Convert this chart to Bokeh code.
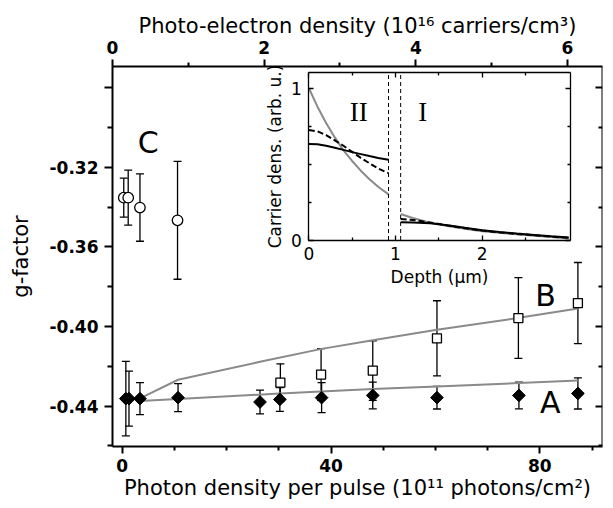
import numpy as np
from bokeh.plotting import figure
from bokeh.models import (Range1d, LinearAxis, FixedTicker, Whisker, TeeHead,
                          ColumnDataSource, Label)
from bokeh.embed import file_html
from bokeh.resources import INLINE

# ---------------- data ----------------
# Series A: filled diamonds
photon_A = [0.7, 1.3, 3.4, 10.7, 26.4, 30.2, 38.2, 48.0, 60.3, 76.0, 87.3]
g_A = [-0.4363, -0.4363, -0.4363, -0.4358, -0.4380, -0.4367, -0.4358,
       -0.4347, -0.4358, -0.4347, -0.4337]
err_A = [0.0187, 0.0138, 0.0080, 0.0070, 0.0060, 0.0060, 0.0075,
         0.0067, 0.0057, 0.0067, 0.0078]

# Series B: open squares
photon_B = [30.3, 38.1, 48.0, 60.3, 75.9, 87.3]
g_B = [-0.4283, -0.4242, -0.4222, -0.4060, -0.3958, -0.3883]
err_B = [0.0095, 0.0130, 0.0150, 0.0189, 0.0203, 0.0204]

# Series C: open circles
photon_C = [0.3, 1.15, 3.4, 10.6]
g_C = [-0.3353, -0.3353, -0.3403, -0.3467]
err_C = [0.0098, 0.0138, 0.0169, 0.0296]

# Model curves (grey)
fit_A_x = [3.4, 10.7, 30.2, 48.0, 60.3, 76.0, 87.3]
fit_A_g = [-0.4375, -0.4365, -0.4337, -0.4315, -0.4302, -0.4285, -0.4272]
fit_B_x = [3.4, 10.7, 26.4, 38.2, 48.0, 60.3, 76.0, 87.3]
fit_B_g = [-0.4362, -0.4268, -0.4178, -0.4113, -0.4070, -0.4017, -0.3957, -0.3910]

labels_text = ["A", "B", "C"]
labels_x = [82.0, 81.1, 5.0]
labels_g = [-0.4381, -0.3845, -0.3074]

# Ticks
x_ticks = [0, 40, 80]
x_tick_labels = ["0", "40", "80"]
x_minor = [10, 20, 30, 50, 60, 70, 90]
y_ticks = [-0.44, -0.40, -0.36, -0.32, -0.28]
y_tick_labels = ["-0.44", "-0.40", "-0.36", "-0.32", ""]
y_minor = [-0.46, -0.42, -0.38, -0.34, -0.30]
top_ticks = [0, 2, 4, 6]
top_tick_labels = ["0", "2", "4", "6"]
top_minor = [1, 3, 5]

# Inset: carrier density vs depth
depth_II = [0.0, 0.1, 0.2, 0.3, 0.4, 0.5, 0.6, 0.7, 0.8, 0.92]
grey_II = [1.0, 0.877, 0.77, 0.675, 0.59, 0.52, 0.456, 0.40, 0.35, 0.30]
solid_II = [0.632, 0.63, 0.62, 0.607, 0.593, 0.578, 0.565, 0.552, 0.54, 0.528]
dashed_II = [0.724, 0.715, 0.69, 0.655, 0.62, 0.58, 0.54, 0.505, 0.47, 0.44]

depth_I = [1.06, 1.2, 1.4, 1.6, 1.8, 2.0, 2.2, 2.4, 2.6, 2.8, 3.0]
grey_I = [0.171, 0.145, 0.113, 0.092, 0.074, 0.058, 0.047, 0.037, 0.028, 0.019, 0.010]
solid_I = [0.116, 0.115, 0.110, 0.097, 0.080, 0.064, 0.052, 0.042, 0.033, 0.024, 0.016]
dashed_I = [0.138, 0.132, 0.115, 0.096, 0.078, 0.062, 0.050, 0.040, 0.031, 0.022, 0.014]

boundary_depth = [0.92, 1.06]
depth_max = 3.02
dens_max = 1.104
depth_ticks = [0, 1, 2]
depth_minor = [0.5, 1.5, 2.5]
dens_ticks = [0, 1]
dens_minor = [0.25, 0.5, 0.75]
region_text = ["II", "I"]
region_depth = [0.577, 1.316]
region_dens = [0.84, 0.84]

# ---------------- layout geometry ----------------
W, H = 613, 508
B_LEFT, B_RIGHT, B_TOP, B_BOTTOM = 112, 11, 66, 62
FW = W - B_LEFT - B_RIGHT
FH = H - B_TOP - B_BOTTOM

x_off, x_pxu = 9.7, 5.22
x_start = -x_off / x_pxu
x_end = x_start + FW / x_pxu
y_off, y_pxu = 100.7, 1990.0
y_end = -0.32 + y_off / y_pxu
y_start = y_end - FH / y_pxu
top_pxu = 75.83
top_end = FW / top_pxu

ins_left_off, ins_x_pxu = 196.3, 86.66
ins_bottom_off, ins_y_pxu = 206.5, 152.0
ix_start = -ins_left_off / ins_x_pxu
ix_end = ix_start + FW / ins_x_pxu
iy_start = -ins_bottom_off / ins_y_pxu
iy_end = iy_start + FH / ins_y_pxu

FONT = "DejaVu Sans"
GREY = "#8a8a8a"

p = figure(width=W, height=H,
           x_range=Range1d(x_start, x_end), y_range=Range1d(y_start, y_end),
           x_axis_type=None, y_axis_type=None,
           output_backend="svg", toolbar_location=None,
           min_border_left=B_LEFT, min_border_right=B_RIGHT,
           min_border_top=B_TOP, min_border_bottom=B_BOTTOM)
p.extra_x_ranges = {"top": Range1d(0, top_end), "ix": Range1d(ix_start, ix_end)}
p.extra_y_ranges = {"iy": Range1d(iy_start, iy_end)}
p.outline_line_color = None
p.background_fill_color = "white"
p.border_fill_color = "white"


def style(ax, tick_size="17px", label_size="21px", bold=True, lw=2):
    ax.axis_line_width = lw
    ax.axis_line_color = "black"
    ax.major_tick_line_width = lw
    ax.minor_tick_line_width = lw
    ax.major_tick_line_color = "black"
    ax.minor_tick_line_color = "black"
    ax.major_label_text_font = FONT
    ax.major_label_text_font_size = tick_size
    ax.major_label_text_font_style = "bold" if bold else "normal"
    ax.major_label_text_color = "black"
    ax.axis_label_text_font = FONT
    ax.axis_label_text_font_size = label_size
    ax.axis_label_text_font_style = "normal"
    ax.axis_label_text_color = "black"


# main bottom axis
xb = LinearAxis(ticker=FixedTicker(ticks=x_ticks, minor_ticks=x_minor),
                axis_label="Photon density per pulse (10¹¹ photons/cm²)")
xb.major_label_overrides = dict(zip(x_ticks, x_tick_labels))
style(xb)
xb.major_tick_in, xb.major_tick_out = 0, 7
xb.minor_tick_in, xb.minor_tick_out = 0, 4
xb.major_label_standoff = 5
xb.axis_label_standoff = 1
p.add_layout(xb, "below")

# main left axis
yl = LinearAxis(ticker=FixedTicker(ticks=y_ticks, minor_ticks=y_minor),
                axis_label="g-factor")
yl.major_label_overrides = dict(zip(y_ticks, y_tick_labels))
style(yl)
yl.major_tick_in, yl.major_tick_out = 0, 8
yl.minor_tick_in, yl.minor_tick_out = 0, 5
yl.major_label_standoff = 6
yl.axis_label_standoff = 14
p.add_layout(yl, "left")

# main top axis
xt = LinearAxis(x_range_name="top",
                ticker=FixedTicker(ticks=top_ticks, minor_ticks=top_minor),
                axis_label="Photo-electron density (10¹⁶ carriers/cm³)")
xt.major_label_overrides = dict(zip(top_ticks, top_tick_labels))
style(xt)
xt.major_tick_in, xt.major_tick_out = 0, 7
xt.minor_tick_in, xt.minor_tick_out = 0, 4
xt.major_label_standoff = 6
xt.axis_label_standoff = 0
p.add_layout(xt, "above")

# main right axis (inward ticks, no labels)
yr = LinearAxis(ticker=FixedTicker(ticks=y_ticks, minor_ticks=y_minor),
                fixed_location=x_end)
style(yr)
yr.major_label_text_color = None
yr.major_tick_in, yr.major_tick_out = 7, 0
yr.minor_tick_in, yr.minor_tick_out = 4, 0
p.add_layout(yr, "right")

# model curves
p.line(fit_B_x, fit_B_g, line_color=GREY, line_width=2)
p.line(fit_A_x, fit_A_g, line_color=GREY, line_width=2)

# error bars
for xs, gs, es in [(photon_A, g_A, err_A), (photon_B, g_B, err_B), (photon_C, g_C, err_C)]:
    src = ColumnDataSource(dict(x=xs,
                                up=[g + e for g, e in zip(gs, es)],
                                lo=[g - e for g, e in zip(gs, es)]))
    w = Whisker(source=src, base="x", upper="up", lower="lo", dimension="height",
                line_color="black", line_width=1.3,
                upper_head=TeeHead(size=8, line_width=1.3, line_color="black"),
                lower_head=TeeHead(size=8, line_width=1.3, line_color="black"))
    p.add_layout(w)

# markers
p.scatter(photon_A, g_A, marker="square", size=9, angle=np.pi / 4,
          fill_color="black", line_color="black", line_width=1)
p.scatter(photon_B, g_B, marker="square", size=9,
          fill_color="white", line_color="black", line_width=1.3)
p.scatter(photon_C, g_C, marker="circle", size=10.5,
          fill_color="white", line_color="black", line_width=1.3)

for t, lx, ly in zip(labels_text, labels_x, labels_g):
    p.add_layout(Label(x=lx, y=ly, text=t, text_font=FONT, text_font_size="30px",
                       text_align="center", text_baseline="middle", text_color="black"))

# ---------------- inset ----------------
RN = dict(x_range_name="ix", y_range_name="iy")
p.line(depth_II, grey_II, line_color=GREY, line_width=2, **RN)
p.line(depth_I, grey_I, line_color=GREY, line_width=2, **RN)
p.line(depth_II, dashed_II, line_color="black", line_width=2, line_dash="6 3", **RN)
p.line(depth_I, dashed_I, line_color="black", line_width=2, line_dash="6 3", **RN)
p.line(depth_II, solid_II, line_color="black", line_width=2, **RN)
p.line(depth_I, solid_I, line_color="black", line_width=2, **RN)
p.segment(x0=boundary_depth, y0=[0] * len(boundary_depth),
          x1=boundary_depth, y1=[dens_max] * len(boundary_depth),
          line_color="black", line_width=1, line_dash="4 3", **RN)

for t, dx, dy in zip(region_text, region_depth, region_dens):
    p.add_layout(Label(x=dx, y=dy, text=t, text_font="Liberation Serif",
                       text_font_size="27px", text_align="center",
                       text_baseline="middle", text_color="black", **RN))


def inset_axis(side, ticks, minor, loc, bounds, label=None, show_labels=True):
    ax = LinearAxis(x_range_name="ix", y_range_name="iy", fixed_location=loc,
                    bounds=bounds, ticker=FixedTicker(ticks=ticks, minor_ticks=minor))
    if label:
        ax.axis_label = label
    style(ax, tick_size="17px", label_size="17px", bold=False, lw=1.3)
    ax.major_tick_in, ax.major_tick_out = 5, 0
    ax.minor_tick_in, ax.minor_tick_out = 3, 0
    ax.major_label_standoff = 7
    ax.axis_label_standoff = 3
    if not show_labels:
        ax.major_label_text_color = None
    p.add_layout(ax, side)
    return ax


inset_axis("below", depth_ticks, depth_minor, 0, (0, depth_max), "Depth (µm)")
inset_axis("left", dens_ticks, dens_minor, 0, (0, dens_max), "Carrier dens. (arb. u.)")
inset_axis("above", depth_ticks, depth_minor, dens_max, (0, depth_max), show_labels=False)
inset_axis("right", dens_ticks, dens_minor, depth_max, (0, dens_max), show_labels=False)

open("out.html", "w").write(file_html(p, INLINE))
